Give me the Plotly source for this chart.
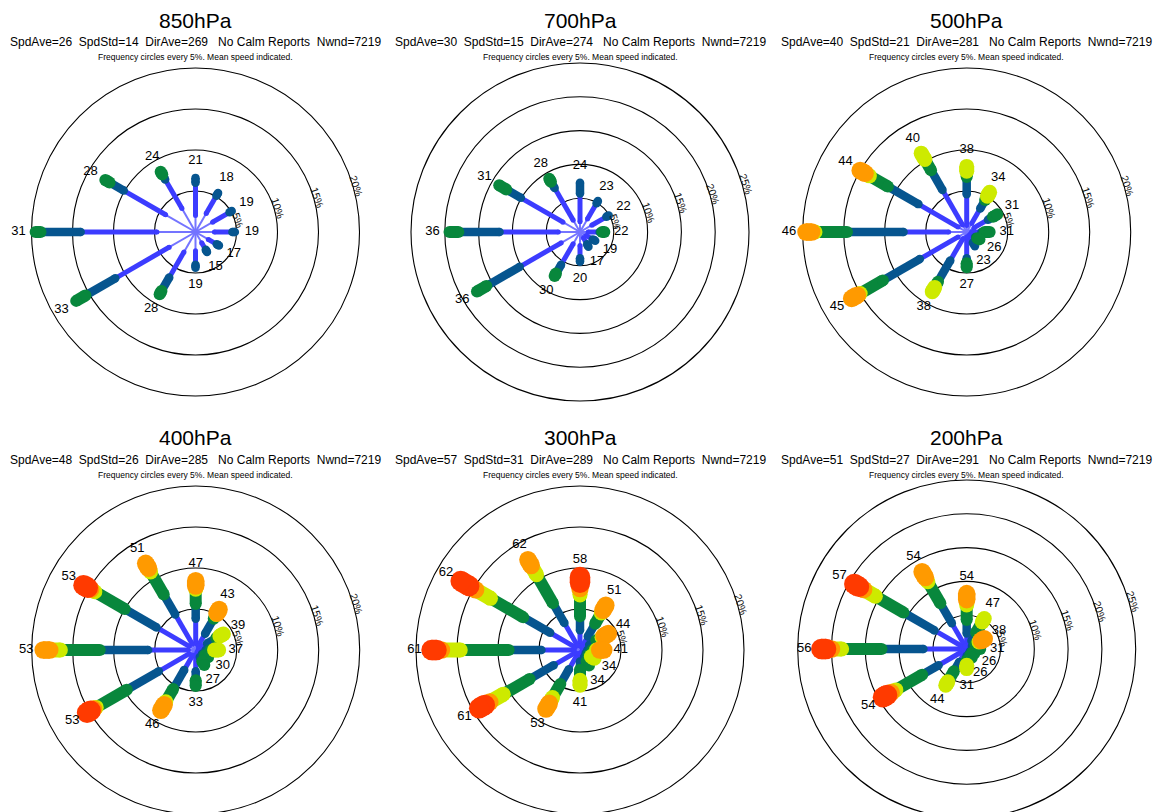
import math
import plotly.graph_objects as go

# ---------------- data ----------------
levels = ["850hPa", "700hPa", "500hPa", "400hPa", "300hPa", "200hPa"]
spd_ave = [26, 30, 40, 48, 57, 51]
spd_std = [14, 15, 21, 26, 31, 27]
dir_ave = [269, 274, 281, 285, 289, 291]
nwnd = [7219, 7219, 7219, 7219, 7219, 7219]
ring_max = [20, 25, 20, 20, 20, 25]          # outermost frequency circle (%)
ring_step = 5
directions = [0, 30, 60, 90, 120, 150, 180, 210, 240, 270, 300, 330]

# mean speed per direction
mean_850 = [21, 18, 19, 19, 17, 15, 19, 28, 33, 31, 28, 24]
mean_700 = [24, 23, 22, 22, 19, 17, 20, 30, 36, 36, 31, 28]
mean_500 = [38, 34, 31, 31, 26, 23, 27, 38, 45, 46, 44, 40]
mean_400 = [47, 43, 39, 37, 30, 27, 33, 46, 53, 53, 53, 51]
mean_300 = [58, 51, 44, 41, 34, 34, 41, 53, 61, 61, 62, 62]
mean_200 = [54, 47, 38, 31, 26, 26, 31, 44, 54, 56, 57, 54]

# cumulative frequency (%) at the outer end of each speed class, per direction
cum_850 = [
    [2.0, 6.0, 6.6], [2.6, 5.1, 5.5], [2.4, 4.8, 5.1], [2.3, 4.5, 4.8],
    [1.8, 3.0, 3.3], [1.5, 2.5, 2.8], [2.3, 4.0, 4.35], [2.8, 6.4, 8.3, 8.75],
    [3.7, 11.3, 15.5, 16.8], [4.7, 14.0, 18.9, 19.5], [4.2, 10.1, 12.1, 12.7],
    [3.3, 7.4, 8.1, 8.5]]
cum_700 = [
    [1.5, 5.7, 7.3], [2.2, 4.9, 5.3], [2.0, 4.5, 4.9], [1.2, 2.9, 3.3, 3.6],
    [1.0, 2.2, 2.6], [1.0, 2.1, 2.5], [2.0, 3.9, 4.4], [2.0, 5.6, 7.1, 7.5],
    [3.2, 10.3, 16.0, 17.6], [3.2, 11.9, 18.0, 19.3], [2.9, 10.1, 12.6, 13.8],
    [2.0, 7.5, 8.6, 9.1]]
cum_500 = [
    [0.8, 4.6, 6.7, 7.4, 8.0], [1.2, 3.3, 4.5, 5.05, 5.6], [1.0, 3.0, 3.7, 4.3],
    [0.6, 1.8, 2.2, 2.8], [0.5, 1.2, 1.5, 1.8], [0.5, 1.5, 2.0],
    [0.6, 3.2, 3.8, 4.3], [0.9, 4.0, 7.0, 7.8, 8.4],
    [1.2, 6.6, 11.8, 15.0, 15.4, 16.2], [2.2, 7.7, 14.6, 18.5, 18.9, 19.6],
    [1.2, 6.8, 11.1, 13.7, 14.3, 15.0], [1.0, 5.9, 8.7, 10.2, 11.1]]
cum_400 = [
    [0.8, 3.8, 5.6, 7.4, 7.8, 8.45], [0.6, 2.3, 4.4, 5.0, 5.2, 5.7],
    [0.4, 1.6, 2.9, 3.4, 3.9], [0.3, 1.2, 1.8, 2.3, 2.8], [0.3, 0.9, 1.3, 1.75],
    [0.3, 1.0, 1.6, 2.1], [0.6, 2.6, 3.7, 4.4], [0.7, 2.8, 5.5, 7.3, 7.7, 8.5],
    [0.9, 5.2, 9.7, 14.0, 14.4, 14.8, 15.3], [0.9, 5.8, 11.7, 16.5, 17.8, 18.6],
    [0.9, 5.5, 10.0, 14.2, 14.8, 15.2, 15.8], [0.8, 5.0, 7.8, 11.0, 11.5, 12.2]]
cum_300 = [
    [0.5, 2.4, 4.1, 6.7, 7.5, 8.2, 8.9], [0.4, 1.9, 3.7, 5.2, 5.6, 6.3],
    [0.4, 1.3, 2.3, 3.1, 3.4, 4.0], [0.3, 0.9, 1.5, 2.0, 2.4, 2.9],
    [0.3, 0.8, 1.2, 1.6, 2.0], [0.3, 1.0, 1.6, 2.2], [0.4, 1.4, 2.4, 3.7, 4.3],
    [0.5, 2.7, 4.8, 6.7, 7.5, 8.3], [0.7, 3.7, 7.1, 10.8, 12.7, 13.4, 14.2],
    [0.7, 4.7, 8.7, 14.6, 16.9, 17.5, 18.1], [0.7, 4.2, 8.0, 12.6, 14.7, 15.6, 16.8],
    [0.6, 3.8, 6.6, 10.6, 11.9, 12.7]]
cum_200 = [
    [0.4, 2.3, 4.3, 6.5, 7.3, 8.2], [0.3, 1.4, 2.8, 4.6, 5.2],
    [0.3, 0.9, 1.5, 2.1, 2.5, 3.0], [0.3, 0.8, 1.4, 2.0], [0.3, 0.6, 1.0, 1.3],
    [0.3, 0.7, 1.1, 1.5], [0.3, 1.0, 1.7, 2.4, 2.9], [0.4, 2.2, 3.8, 5.6, 6.2],
    [0.6, 4.8, 7.6, 12.1, 12.9, 13.6, 14.3], [0.6, 6.4, 12.6, 18.5, 20.0, 20.8, 21.5],
    [0.6, 5.5, 10.8, 15.6, 17.6, 18.4, 19.2], [0.5, 4.4, 7.8, 11.5, 12.2, 13.2]]

cum_all = [cum_850, cum_700, cum_500, cum_400, cum_300, cum_200]
mean_all = [mean_850, mean_700, mean_500, mean_400, mean_300, mean_200]

# ---------------- style / layout ----------------
class_colors = ["#7474ff", "#3c3cff", "#06558f", "#08873c", "#cdea00", "#ff9a00", "#ff3a00"]
class_widths = [2, 5, 8.5, 12, 15, 17.5, 20.5]
FONT = "Liberation Sans, Arial, Helvetica, sans-serif"
OFF = 8                      # page (body) margin of the html page
W, H = 1163 - OFF, 812 - OFF  # figure size so that it fills the window
# panel centres in window pixels
centers = [(195.5, 232), (580, 232), (966.7, 232), (195.7, 650), (580, 650), (966.7, 649)]
outer_px = {20: 164.0, 25: 169.0}
title_y = [20, 20, 20, 438, 438, 438]

fig = go.Figure()
shapes, annotations = [], []

for i in range(6):
    ax = i + 1
    xr, yr = f"x{ax}", f"y{ax}"
    cx, cy = centers[i][0] - OFF, centers[i][1] - OFF     # figure pixels
    k = outer_px[ring_max[i]] / ring_max[i]                # px per percent
    x0p, x1p = cx - 186, cx + 186
    if i < 3:
        y0p, y1p = cy - 175, cy + 175
    else:
        y0p, y1p = cy - 174, H
    fig.update_layout(**{
        f"xaxis{ax}": dict(domain=[max(x0p, 0) / W, min(x1p, W) / W],
                           range=[(max(x0p, 0) - cx) / k, (min(x1p, W) - cx) / k],
                           visible=False, fixedrange=True, anchor=yr),
        f"yaxis{ax}": dict(domain=[1 - y1p / H, 1 - y0p / H], range=[(cy - y1p) / k, (cy - y0p) / k],
                           visible=False, fixedrange=True, anchor=xr),
    })

    # frequency circles
    for ring in range(ring_step, ring_max[i] + 1, ring_step):
        shapes.append(dict(type="circle", xref=xr, yref=yr, x0=-ring, y0=-ring, x1=ring, y1=ring,
                           line=dict(color="black", width=1.1), layer="below"))
        ang = math.radians(74)
        rr = ring + 3.5 / k
        annotations.append(dict(xref=xr, yref=yr, x=rr * math.sin(ang), y=rr * math.cos(ang),
                                text=f"{ring}%", showarrow=False, textangle=72,
                                font=dict(family=FONT, size=10.5, color="#111"),
                                xanchor="center", yanchor="middle"))

    # rays, one trace per speed class
    cum = cum_all[i]
    for c in range(7):
        xs, ys = [], []
        for d, th in enumerate(directions):
            seg = cum[d]
            if len(seg) <= c:
                continue
            r0 = seg[c - 1] if c > 0 else 0.0
            r1 = seg[c]
            t = math.radians(th)
            xs += [r0 * math.sin(t), r1 * math.sin(t), None]
            ys += [r0 * math.cos(t), r1 * math.cos(t), None]
        if not xs:
            continue
        fig.add_trace(go.Scatter(x=xs, y=ys, xaxis=xr, yaxis=yr, mode="lines+markers",
                                 line=dict(color=class_colors[c], width=class_widths[c]),
                                 marker=dict(color=class_colors[c], size=class_widths[c], line=dict(width=0)),
                                 hoverinfo="skip", showlegend=False))

    # mean speed labels
    lx, ly, lt = [], [], []
    for d, th in enumerate(directions):
        t = math.radians(th)
        rl = cum[d][-1] + 17.0 / k
        lx.append(rl * math.sin(t)); ly.append(rl * math.cos(t)); lt.append(str(mean_all[i][d]))
    fig.add_trace(go.Scatter(x=lx, y=ly, xaxis=xr, yaxis=yr, mode="text", text=lt,
                             textposition="middle center", cliponaxis=False,
                             textfont=dict(family=FONT, size=13, color="black"),
                             hoverinfo="skip", showlegend=False))

    # titles
    ty = title_y[i] - OFF
    nb = "\u00a0"
    sub = (f"SpdAve={spd_ave[i]}{nb} SpdStd={spd_std[i]}{nb} DirAve={dir_ave[i]}{nb}{nb} "
           f"No Calm Reports{nb} Nwnd={nwnd[i]}")
    annotations.append(dict(xref="paper", yref="paper", x=cx / W, y=1 - ty / H, text=levels[i],
                            showarrow=False, xanchor="center", yanchor="middle",
                            font=dict(family=FONT, size=21, color="black")))
    annotations.append(dict(xref="paper", yref="paper", x=cx / W, y=1 - (ty + 22) / H, text=sub,
                            showarrow=False, xanchor="center", yanchor="middle",
                            font=dict(family=FONT, size=12, color="black")))
    annotations.append(dict(xref="paper", yref="paper", x=cx / W, y=1 - (ty + 37) / H,
                            text="Frequency circles every 5%. Mean speed indicated.",
                            showarrow=False, xanchor="center", yanchor="middle",
                            font=dict(family=FONT, size=8.5, color="black")))

fig.update_layout(width=W, height=H, margin=dict(l=0, r=0, t=0, b=0),
                  paper_bgcolor="white", plot_bgcolor="white",
                  shapes=shapes, annotations=annotations, showlegend=False)
fig.write_html("out.html")
